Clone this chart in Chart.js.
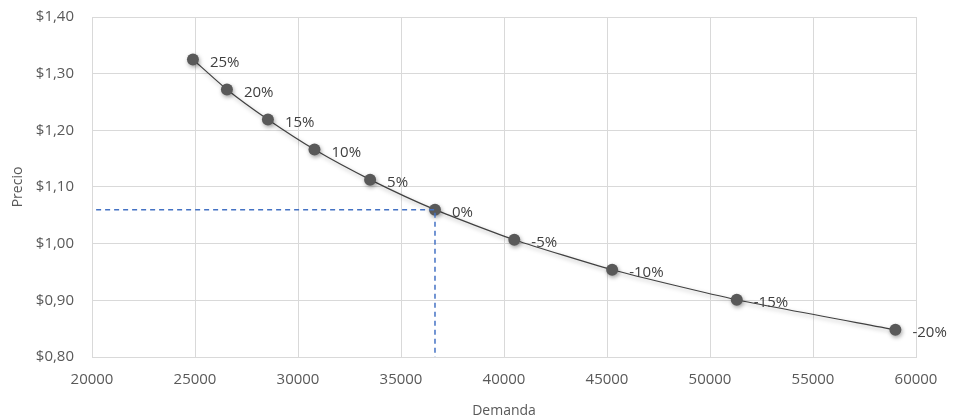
<!DOCTYPE html>
<html>
<head>
<meta charset="utf-8">
<script src="https://cdn.jsdelivr.net/npm/chart.js@4"></script>
<style>
  html, body { margin: 0; padding: 0; background: #fff; }
  #wrap { width: 958px; height: 419px; }
</style>
</head>
<body>
<div id="wrap"><canvas id="curva"></canvas></div>
<script>
// price change labels, demand (x) and price (y)
var cambios = ['25%', '20%', '15%', '10%', '5%', '0%', '-5%', '-10%', '-15%', '-20%'];
var demanda = [24900, 26550, 28540, 30800, 33500, 36650, 40500, 45250, 51300, 59000];
var precio = [1.325, 1.272, 1.219, 1.166, 1.113, 1.06, 1.007, 0.954, 0.901, 0.848];

// dashed guide to the 0% point
var guiaX = [20200, 36650, 36650];
var guiaY = [1.06, 1.06, 0.80];

var gris = '#595959';
var fuente = "'Open Sans', sans-serif";

var puntos = demanda.map(function(d, i) { return { x: d, y: precio[i] }; });
var guia = guiaX.map(function(d, i) { return { x: d, y: guiaY[i] }; });

var sombra = {
    id: 'sombra',
    beforeDatasetDraw: function(chart, args) {
        if (args.index !== 1) return;
        var ctx = chart.ctx;
        ctx.save();
        ctx.shadowColor = 'rgba(0,0,0,0.35)';
        ctx.shadowBlur = 4;
        ctx.shadowOffsetX = 1;
        ctx.shadowOffsetY = 2;
    },
    afterDatasetDraw: function(chart, args) {
        if (args.index !== 1) return;
        chart.ctx.restore();
    }
};

var etiquetas = {
    id: 'etiquetas',
    afterDatasetsDraw: function(chart) {
        var ctx = chart.ctx;
        var meta = chart.getDatasetMeta(1);
        ctx.save();
        ctx.font = '15px ' + fuente;
        ctx.fillStyle = '#404040';
        ctx.textAlign = 'left';
        ctx.textBaseline = 'middle';
        meta.data.forEach(function(p, i) {
            ctx.fillText(cambios[i], p.x + 17, p.y + 3);
        });
        ctx.restore();
    }
};

var ctx = document.getElementById('curva');
var chart = new Chart(ctx, {
    type: 'scatter',
    data: {
        datasets: [{
            data: guia,
            showLine: true,
            borderColor: '#4472C4',
            borderWidth: 1.5,
            borderDash: [5, 4],
            pointRadius: 0,
            fill: false
        }, {
            data: puntos,
            showLine: true,
            borderColor: '#404040',
            borderWidth: 1.2,
            pointRadius: 6,
            pointBackgroundColor: '#595959',
            pointBorderColor: '#595959',
            pointBorderWidth: 0,
            tension: 0.2,
            fill: false
        }]
    },
    options: {
        responsive: true,
        maintainAspectRatio: false,
        animation: false,
        layout: { padding: { top: 17, right: 42, left: 0, bottom: 0 } },
        plugins: {
            legend: { display: false },
            tooltip: { enabled: false }
        },
        scales: {
            x: {
                type: 'linear',
                min: 20000,
                max: 60000,
                afterFit: function(s) { s.height = 62; },
                ticks: {
                    stepSize: 5000,
                    color: gris,
                    font: { family: fuente, size: 15 },
                    padding: 14,
                    callback: function(v) { return String(v); }
                },
                grid: { color: '#d9d9d9', drawTicks: false },
                border: { color: '#d9d9d9' },
                title: {
                    display: true,
                    text: 'Demanda',
                    color: gris,
                    font: { family: fuente, size: 14 },
                    padding: { top: 4, bottom: 0 }
                }
            },
            y: {
                min: 0.8,
                max: 1.4,
                afterFit: function(s) {
                    s.width = 92;
                    s.paddingTop = 0;
                    s.paddingBottom = 0;
                },
                ticks: {
                    stepSize: 0.1,
                    color: gris,
                    font: { family: fuente, size: 15 },
                    padding: 18,
                    callback: function(v) { return '$' + v.toFixed(2).replace('.', ','); }
                },
                grid: { color: '#d9d9d9', drawTicks: false },
                border: { color: '#d9d9d9' },
                title: {
                    display: true,
                    text: 'Precio',
                    color: gris,
                    font: { family: fuente, size: 14 },
                    padding: { top: 10, bottom: 10 }
                }
            }
        }
    },
    plugins: [sombra, etiquetas]
});
</script>
</body>
</html>
